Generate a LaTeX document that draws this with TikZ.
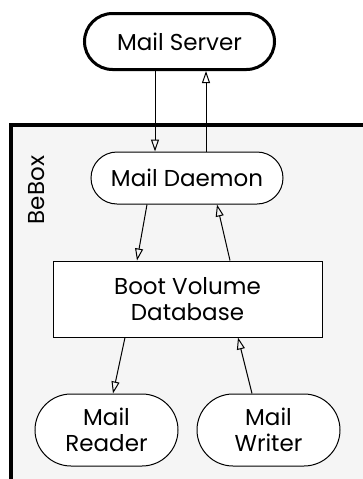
\documentclass[tikz,border=0pt]{standalone}
\usepackage{fontspec}
\setmainfont{Poppins}
\usetikzlibrary{arrows.meta,calc}
\tikzset{
  pill/.style={draw=black, fill=white, line width=1pt, align=center, inner sep=0pt,
    font=\fontsize{23}{25.5}\selectfont},
  dbbox/.style={draw=black, fill=white, line width=1pt, align=center, inner sep=0pt,
    minimum width=269pt, minimum height=76pt, font=\fontsize{23}{26}\selectfont},
  flow/.style={line width=1pt, -{Triangle[open, length=12pt, width=8pt, line width=1pt]}},
}
\begin{document}
\begin{tikzpicture}[x=1pt, y=-1pt]
\useasboundingbox (0,0) rectangle (362,479);
% BeBox
\fill[black!4] (11,125) rectangle (370,490);
\draw[line width=4pt] (11,490) -- (11,125) -- (370,125);
\node[rotate=90, font=\fontsize{23}{25}\selectfont] (bebox) at (37,190) {BeBox};
% nodes
\node[pill, line width=3pt, minimum width=190pt, minimum height=56pt, rounded corners=28pt] (srv) at (179.5,41.5) {Mail Server};
\node[pill, minimum width=192pt, minimum height=52pt, rounded corners=26pt] (dae) at (187,178) {Mail Daemon};
\node[dbbox] (db) at (187.5,299) {Boot Volume\\Database};
\node[pill, minimum width=143pt, minimum height=72pt, rounded corners=36pt] (rdr) at (106.5,430) {Mail\\Reader};
\node[pill, minimum width=143pt, minimum height=72pt, rounded corners=36pt] (wrt) at (268.5,430) {Mail\\Writer};
% connectors
\draw[flow] ([xshift=-24.5pt]srv.south) -- ([xshift=-32pt]dae.north);
\draw[flow] ([xshift=19pt]dae.north) -- ([xshift=26.5pt]srv.south);
\draw[flow] ([xshift=-40pt]dae.south) -- ([xshift=-50.5pt]db.north);
\draw[flow] ([xshift=42.5pt]db.north) -- ([xshift=30pt]dae.south);
\draw[flow] ([xshift=-62.5pt]db.south) -- ([xshift=6.5pt]rdr.north);
\draw[flow] ([xshift=-16.5pt]wrt.north) -- ([xshift=50.5pt]db.south);
\end{tikzpicture}
\end{document}
